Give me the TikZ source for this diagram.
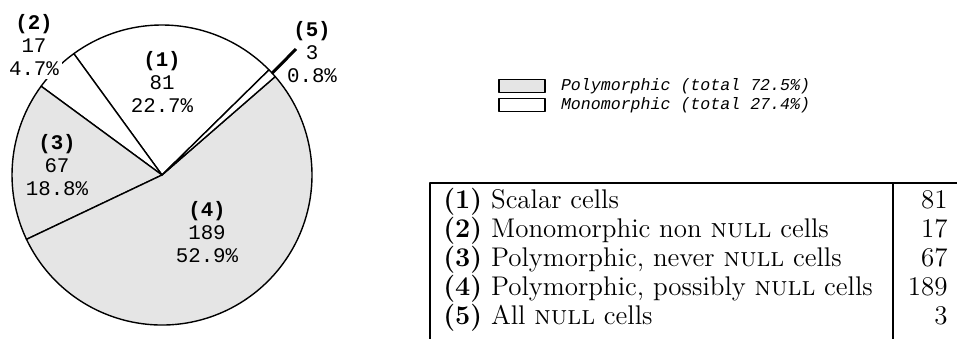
\documentclass[tikz,border=0pt]{standalone}
\usepackage{fontspec}
\newfontfamily\piefont{Liberation Mono}
\usetikzlibrary{positioning}

\begin{document}
\begin{tikzpicture}[x=0.5pt,y=0.5pt,line join=round,
  wedge/.style={draw,line width=0.7pt},
  poly/.style={wedge,fill=gray!20},
  mono/.style={wedge,fill=white},
  pielabel/.style={font=\piefont\fontsize{10.4}{11.5}\selectfont,align=center,inner sep=1.5pt},
  legbox/.style={draw,line width=0.6pt,minimum width=23pt,minimum height=6.5pt,inner sep=0pt},
  legtext/.style={font=\piefont\itshape\fontsize{8.3}{9}\selectfont,inner sep=0pt},
  rowtext/.style={font=\fontsize{13.5}{14.5}\selectfont,anchor=base west,inner sep=0pt},
  rownum/.style={font=\fontsize{13.5}{14.5}\selectfont,anchor=base east,inner sep=0pt},
  rule/.style={line width=0.7pt}]

  \useasboundingbox (0,0) rectangle (957,339);
  \coordinate (o) at (162,164);

  \draw[mono] (o) -- ++(44.5:150) arc[start angle=44.5,end angle=126,radius=150] -- cycle;
  \draw[mono] (o) -- ++(126:150) arc[start angle=126,end angle=143.7,radius=150] -- cycle;
  \draw[poly] (o) -- ++(143.7:150) arc[start angle=143.7,end angle=205.4,radius=150] -- cycle;
  \draw[poly] (o) -- ++(205.4:150) arc[start angle=205.4,end angle=401,radius=150] -- cycle;
  \draw[mono] (o) -- ++(41:150) arc[start angle=41,end angle=44.5,radius=150] -- cycle;

  \node[pielabel] (lab1) at (162,257) {\textbf{(1)}\\81\\22.7\%};
  \node[pielabel,fill=white] (lab2) at (34,294) {\textbf{(2)}\\17\\4.7\%};
  \node[pielabel] (lab3) at (57,174) {\textbf{(3)}\\67\\18.8\%};
  \node[pielabel] (lab4) at (207,107) {\textbf{(4)}\\189\\52.9\%};
  \node[pielabel] (lab5) at (312,287) {\textbf{(5)}\\3\\0.8\%};

  \path (o) ++(42.75:150) coordinate (tip5);
  \coordinate (end5) at (296,290);
  \draw[line width=1.5pt] (tip5) -- (end5);

  \node[legbox,fill=gray!20] (polybox) at (522,253) {};
  \node[legbox,below=2.5pt of polybox] (monobox) {};
  \node[legtext,right=7.5pt of polybox] (polytext) {Polymorphic (total 72.5\%)};
  \node[legtext,right=7.5pt of monobox] (monotext) {Monomorphic (total 27.4\%)};

  \coordinate (tl) at (430,156);
  \coordinate (tr) at (957,156);
  \coordinate (bl) at (430,0);
  \coordinate (tm) at (893,156);
  \coordinate (bm) at (893,0);
  \draw[rule] (tr) -- (tl) -- (bl);
  \draw[rule] (tm) -- (bm);

  \node[rowtext] (row1) at (443,131) {\textbf{(1)} Scalar cells};
  \node[rowtext] (row2) at (443,102) {\textbf{(2)} Monomorphic non \textsc{null} cells};
  \node[rowtext] (row3) at (443,73) {\textbf{(3)} Polymorphic, never \textsc{null} cells};
  \node[rowtext] (row4) at (443,44) {\textbf{(4)} Polymorphic, possibly \textsc{null} cells};
  \node[rowtext] (row5) at (443,15) {\textbf{(5)} All \textsc{null} cells};
  \node[rownum] (num1) at (948,131) {81};
  \node[rownum] (num2) at (948,102) {17};
  \node[rownum] (num3) at (948,73) {67};
  \node[rownum] (num4) at (948,44) {189};
  \node[rownum] (num5) at (948,15) {3};
\end{tikzpicture}
\end{document}
